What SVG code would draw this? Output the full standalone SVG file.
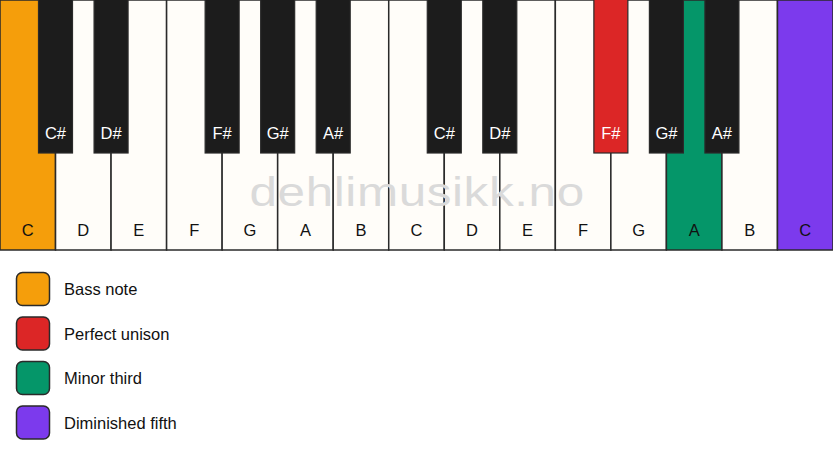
<svg xmlns="http://www.w3.org/2000/svg" width="833" height="461" viewBox="0 0 833 461">
<style>
.w{fill:#fffdf9;stroke:#2a2a2a;stroke-width:1.5}
.b{fill:#1c1c1c;stroke:#2a2a2a;stroke-width:1.2}
.bass{fill:#f59e0b}
.uni{fill:#dc2626}
.min{fill:#059669}
.dim{fill:#7c3aed}
.wl{font-family:"Liberation Sans",Arial,sans-serif;font-size:16.5px;fill:#111;text-anchor:middle}
.bl{font-family:"Liberation Sans",Arial,sans-serif;font-size:16.5px;fill:#fff;text-anchor:middle}
.lg{font-family:"Liberation Sans",Arial,sans-serif;font-size:16.5px;fill:#111}
.sw{stroke:#2a2a2a;stroke-width:1.5}
.wm{font-family:"Liberation Sans",Arial,sans-serif;font-size:40.5px;letter-spacing:0.5px;fill:#dadada}
</style>
<rect width="833" height="461" fill="#ffffff"/>
<g id="white-keys">
<g id="w0"><rect class="w bass" x="0" y="0" width="55.53" height="250"/><text class="wl" x="27.8" y="236">C</text></g>
<g id="w1"><rect class="w" x="55.53" y="0" width="55.53" height="250"/><text class="wl" x="83.3" y="236">D</text></g>
<g id="w2"><rect class="w" x="111.07" y="0" width="55.53" height="250"/><text class="wl" x="138.8" y="236">E</text></g>
<g id="w3"><rect class="w" x="166.6" y="0" width="55.53" height="250"/><text class="wl" x="194.4" y="236">F</text></g>
<g id="w4"><rect class="w" x="222.13" y="0" width="55.53" height="250"/><text class="wl" x="249.9" y="236">G</text></g>
<g id="w5"><rect class="w" x="277.67" y="0" width="55.53" height="250"/><text class="wl" x="305.4" y="236">A</text></g>
<g id="w6"><rect class="w" x="333.2" y="0" width="55.53" height="250"/><text class="wl" x="361" y="236">B</text></g>
<g id="w7"><rect class="w" x="388.73" y="0" width="55.53" height="250"/><text class="wl" x="416.5" y="236">C</text></g>
<g id="w8"><rect class="w" x="444.27" y="0" width="55.53" height="250"/><text class="wl" x="472" y="236">D</text></g>
<g id="w9"><rect class="w" x="499.8" y="0" width="55.53" height="250"/><text class="wl" x="527.6" y="236">E</text></g>
<g id="w10"><rect class="w" x="555.33" y="0" width="55.53" height="250"/><text class="wl" x="583.1" y="236">F</text></g>
<g id="w11"><rect class="w" x="610.87" y="0" width="55.53" height="250"/><text class="wl" x="638.6" y="236">G</text></g>
<g id="w12"><rect class="w min" x="666.4" y="0" width="55.53" height="250"/><text class="wl" x="694.2" y="236">A</text></g>
<g id="w13"><rect class="w" x="721.93" y="0" width="55.53" height="250"/><text class="wl" x="749.7" y="236">B</text></g>
<g id="w14"><rect class="w dim" x="777.47" y="0" width="55.53" height="250"/><text class="wl" x="805.2" y="236">C</text></g>
</g>
<text class="wm" transform="translate(249.5,206) scale(1.22,1)" x="0" y="0">dehlimusikk.no</text>
<g id="black-keys">
<g id="b1"><rect class="b" x="38.5" y="-1" width="34" height="154"/><text class="bl" x="55.5" y="139">C#</text></g>
<g id="b2"><rect class="b" x="94.07" y="-1" width="34" height="154"/><text class="bl" x="111.07" y="139">D#</text></g>
<g id="b4"><rect class="b" x="205.13" y="-1" width="34" height="154"/><text class="bl" x="222.13" y="139">F#</text></g>
<g id="b5"><rect class="b" x="260.67" y="-1" width="34" height="154"/><text class="bl" x="277.67" y="139">G#</text></g>
<g id="b6"><rect class="b" x="316.2" y="-1" width="34" height="154"/><text class="bl" x="333.2" y="139">A#</text></g>
<g id="b8"><rect class="b" x="427.27" y="-1" width="34" height="154"/><text class="bl" x="444.27" y="139">C#</text></g>
<g id="b9"><rect class="b" x="482.8" y="-1" width="34" height="154"/><text class="bl" x="499.8" y="139">D#</text></g>
<g id="b11"><rect class="b uni" x="593.87" y="-1" width="34" height="154"/><text class="bl" x="610.87" y="139">F#</text></g>
<g id="b12"><rect class="b" x="649.4" y="-1" width="34" height="154"/><text class="bl" x="666.4" y="139">G#</text></g>
<g id="b13"><rect class="b" x="704.93" y="-1" width="34" height="154"/><text class="bl" x="721.93" y="139">A#</text></g>
</g>
<g id="legend">
<g id="lg-bass"><rect class="sw bass" x="16.5" y="272.5" width="33" height="33" rx="6"/><text class="lg" x="64" y="295">Bass note</text></g>
<g id="lg-unison"><rect class="sw uni" x="16.5" y="317" width="33" height="33" rx="6"/><text class="lg" x="64" y="339.5">Perfect unison</text></g>
<g id="lg-minor"><rect class="sw min" x="16.5" y="361.5" width="33" height="33" rx="6"/><text class="lg" x="64" y="384">Minor third</text></g>
<g id="lg-dim"><rect class="sw dim" x="16.5" y="406" width="33" height="33" rx="6"/><text class="lg" x="64" y="428.5">Diminished fifth</text></g>
</g>
<g id="connectors"/>
</svg>
